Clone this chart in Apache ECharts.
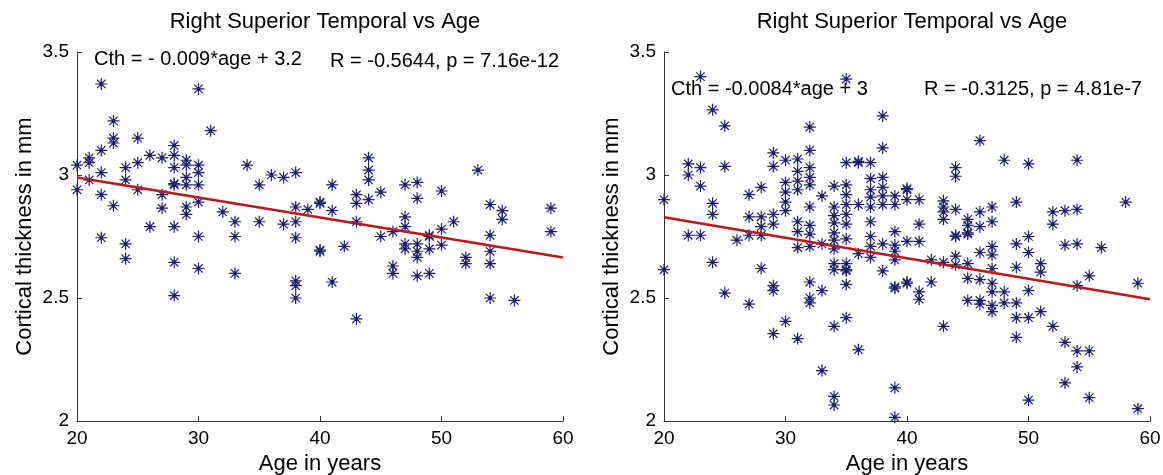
<!DOCTYPE html>
<html><head><meta charset="utf-8">
<script src="https://cdn.jsdelivr.net/npm/echarts/dist/echarts.min.js"></script>
<style>html,body{margin:0;padding:0;background:#fff}#c{width:1163px;height:475px}</style>
</head><body><div id="c"></div>
<script>
// ---- data ----
const chartTitle = "Right Superior Temporal vs Age";
const xTicks = [20, 30, 40, 50, 60];
const yTicks = [2, 2.5, 3, 3.5];
const leftEquation = "Cth = - 0.009*age + 3.2";
const leftStats = "R = -0.5644, p = 7.16e-12";
const rightEquation = "Cth = -0.0084*age + 3";
const rightStats = "R = -0.3125, p = 4.81e-7";

const leftAges = [22,30,23,23,23,25,31,22,21,21,20,20,21,22,22,23,22,24,24,25,25,26,27,27,27,26,28,28,28,28,28,28,29,29,29,29,29,29,30,30,30,30,30,32,33,33,34,35,35,36,37,38,37,38,38,38,39,40,40,24,24,28,28,30,33,38,38,38,40,40,44,44,44,44,43,43,41,41,45,43,47,48,48,50,53,54,55,55,59,59,47,47,46,45,50,51,49,49,54,42,41,43,46,46,47,47,48,48,48,48,49,49,50,52,52,54,54,54,56];
const leftThick = [3.37,3.35,3.22,3.15,3.13,3.15,3.18,3.10,3.07,3.05,3.04,2.94,2.98,3.01,2.92,2.875,2.745,3.03,2.98,3.05,2.94,3.08,3.07,2.92,2.865,2.79,3.12,3.08,3.03,2.96,2.965,2.79,3.06,3.04,2.99,2.96,2.87,2.84,3.04,3.01,2.96,2.89,2.75,2.85,2.81,2.75,3.04,2.96,2.81,3.00,2.99,3.01,2.80,2.87,2.81,2.745,2.86,2.885,2.89,2.72,2.66,2.645,2.51,2.62,2.60,2.57,2.55,2.50,2.69,2.695,3.07,3.02,2.98,2.90,2.92,2.885,2.96,2.855,2.93,2.81,2.96,2.97,2.905,2.935,3.02,2.88,2.855,2.82,2.865,2.77,2.83,2.79,2.77,2.75,2.78,2.81,2.75,2.755,2.755,2.71,2.565,2.415,2.63,2.60,2.72,2.70,2.72,2.69,2.665,2.59,2.70,2.60,2.715,2.665,2.64,2.69,2.64,2.50,2.49];

const rightAges = [23,35,24,25,32,38,38,29,29,30,31,31,31,31,32,32,32,32,22,22,23,23,25,20,24,24,27,28,27,28,28,29,29,30,30,30,30,31,31,32,32,32,33,34,34,34,34,34,35,35,35,35,35,35,36,36,37,36,37,37,37,37,37,37,38,38,38,38,39,39,39,40,40,
  46,48,50,54,44,44,40,41,43,43,43,43,44,46,47,45,45,45,46,47,49,52,53,54,52,58,41,44,44,50,
  22,23,20,24,25,26,27,28,28,27,29,29,29,30,31,31,32,32,32,32,33,33,33,34,34,34,34,34,34,34,35,35,35,35,35,35,36,36,37,37,38,38,39,39,39,39,39,39,39,40,40,40,
  41,45,49,50,53,54,56,41,41,42,42,43,43,44,44,45,45,45,46,46,46,46,47,47,47,47,47,47,47,48,48,49,49,49,49,50,50,50,51,51,51,52,53,53,54,54,54,55,55,55,59,59];
const rightThick = [3.40,3.39,3.265,3.20,3.195,3.24,3.11,3.09,3.035,3.06,3.065,3.015,2.975,2.94,3.10,3.03,2.99,2.96,3.045,3.00,3.03,2.955,3.035,2.90,2.885,2.84,2.92,2.95,2.83,2.83,2.79,2.84,2.80,2.97,2.93,2.89,2.855,2.81,2.77,2.87,2.795,2.76,2.915,2.955,2.87,2.835,2.805,2.765,3.05,2.96,2.92,2.88,2.84,2.80,3.05,3.055,3.05,2.88,2.985,2.94,2.91,2.87,2.81,2.75,2.99,2.95,2.915,2.88,2.915,2.88,2.77,2.94,2.945,
  3.14,3.06,3.045,3.06,3.03,2.995,2.90,2.90,2.895,2.87,2.85,2.82,2.86,2.85,2.87,2.82,2.795,2.765,2.79,2.81,2.89,2.85,2.855,2.86,2.80,2.89,2.80,2.75,2.755,2.75,
  2.755,2.755,2.615,2.645,2.52,2.735,2.755,2.755,2.62,2.475,2.55,2.53,2.355,2.405,2.705,2.335,2.71,2.565,2.50,2.48,2.72,2.53,2.205,2.735,2.70,2.64,2.615,2.385,2.10,2.065,2.74,2.64,2.61,2.615,2.555,2.42,2.68,2.29,2.71,2.665,2.61,2.72,2.715,2.69,2.655,2.54,2.545,2.135,2.015,2.73,2.56,2.565,
  2.73,2.76,2.72,2.685,2.715,2.72,2.705,2.525,2.495,2.655,2.565,2.645,2.385,2.67,2.635,2.64,2.58,2.49,2.685,2.575,2.49,2.475,2.71,2.675,2.62,2.56,2.525,2.47,2.445,2.525,2.48,2.625,2.48,2.42,2.34,2.53,2.42,2.085,2.64,2.605,2.445,2.385,2.32,2.155,2.55,2.285,2.22,2.59,2.285,2.095,2.56,2.05];

const fitAges = [20, 60];
const leftFit = [2.99, 2.665];
const rightFit = [2.828, 2.495];

// ---- build ----
const zip = (a, b) => a.map((v, i) => [v, b[i]]);
const star = 'path://M0,-10L0,10M-10,0L10,0M-7,-7L7,7M-7,7L7,-7M-2.4,0A2.4,2.4,0,1,1,2.4,0A2.4,2.4,0,1,1,-2.4,0Z';
const FONT = '"Liberation Sans", Arial, sans-serif';

function xAxis(g) {
  return {
    type: 'value', gridIndex: g, min: xTicks[0], max: xTicks[xTicks.length - 1], interval: 10,
    name: 'Age in years', nameLocation: 'middle', nameGap: 31,
    nameTextStyle: { fontSize: 22, color: '#000', fontFamily: FONT },
    axisLine: { show: true, lineStyle: { color: '#333', width: 1 } },
    axisTick: { show: true, inside: true, length: 5, lineStyle: { color: '#333' } },
    axisLabel: { fontSize: 19, color: '#000', fontFamily: FONT, margin: 8 },
    splitLine: { show: false }
  };
}
function yAxis(g) {
  return {
    type: 'value', gridIndex: g, min: yTicks[0], max: yTicks[yTicks.length - 1], interval: 0.5,
    name: 'Cortical thickness in mm', nameLocation: 'middle', nameGap: 41,
    nameTextStyle: { fontSize: 22, color: '#000', fontFamily: FONT },
    axisLine: { show: true, lineStyle: { color: '#333', width: 1 } },
    axisTick: { show: true, inside: true, length: 5, lineStyle: { color: '#333' } },
    axisLabel: { fontSize: 19, color: '#000', fontFamily: FONT, margin: 8, formatter: v => String(v) },
    splitLine: { show: false }
  };
}
function scatter(g, data) {
  return {
    type: 'scatter', xAxisIndex: g, yAxisIndex: g, data, symbol: star, symbolSize: 12,
    itemStyle: { color: '#0000cc', borderColor: '#1e1e72', borderWidth: 1.2, opacity: 1 },
    emphasis: { disabled: true }, z: 2
  };
}
function fit(g, vals) {
  return {
    type: 'line', xAxisIndex: g, yAxisIndex: g, data: zip(fitAges, vals), symbol: 'none',
    lineStyle: { color: '#c0161a', width: 2.6 }, z: 3, silent: true
  };
}
const txt = (left, top, text, size) => ({ type: 'text', left, top, style: { text, fontSize: size, fontFamily: FONT, fill: '#000' } });

const chart = echarts.init(document.getElementById('c'), null, { renderer: 'canvas' });
chart.setOption({
  animation: false,
  backgroundColor: '#fff',
  title: [
    { text: chartTitle, left: 320, top: 6, textAlign: 'center', textStyle: { fontSize: 22, fontWeight: 'normal', color: '#000', fontFamily: FONT } },
    { text: chartTitle, left: 907, top: 6, textAlign: 'center', textStyle: { fontSize: 22, fontWeight: 'normal', color: '#000', fontFamily: FONT } }
  ],
  grid: [
    { left: 77, right: 600, top: 52, bottom: 54, outerBoundsMode: 'none', containLabel: false },
    { left: 664, right: 13, top: 52, bottom: 54, outerBoundsMode: 'none', containLabel: false }
  ],
  xAxis: [xAxis(0), xAxis(1)],
  yAxis: [yAxis(0), yAxis(1)],
  series: [scatter(0, zip(leftAges, leftThick)), fit(0, leftFit), scatter(1, zip(rightAges, rightThick)), fit(1, rightFit)],
  graphic: [
    txt(94, 49, leftEquation, 20), txt(330, 51, leftStats, 20),
    txt(671, 79, rightEquation, 20), txt(924, 79, rightStats, 20)
  ]
});
</script></body></html>
